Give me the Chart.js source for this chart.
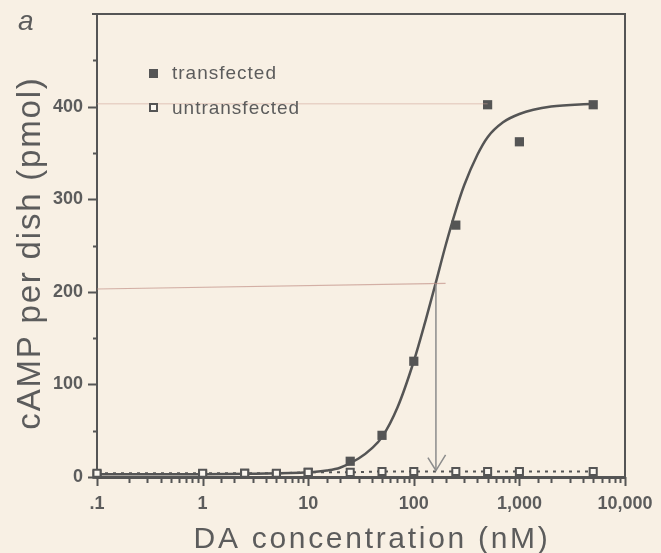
<!DOCTYPE html>
<html lang="en">
<head>
  <meta charset="UTF-8">
  <title>cAMP per dish vs DA concentration</title>
  <script src="https://cdn.jsdelivr.net/npm/chart.js"></script>
  <style>
    html, body { margin: 0; padding: 0; background: #f8f0e4; }
    #wrap { position: relative; width: 661px; height: 553px; }
  </style>
</head>
<body>
  <div id="wrap"><canvas id="chart" width="661" height="553"></canvas></div>
  <script>
    // DA concentration (nM) and measured cAMP (pmol per dish)
    const concentrations = [0.1, 1, 2.5, 5, 10, 25, 50, 100, 250, 500, 1000, 5000];
    const transfected    = [3, 3, 4, 3, 5, 17, 45, 125, 272, 402, 362, 402];
    const untransfected  = [4, 4, 4, 4, 5, 5, 6, 6, 6, 6, 6, 6];

    // fitted curve
    const fitX = [0.1, 1, 3, 10, 15, 20, 30, 40, 50, 70, 100, 130, 160, 200, 250, 300, 400, 500, 700, 1000, 2000, 5000];
    const fitY = [3, 3, 3.5, 5, 7, 10, 20, 31, 43, 75, 125, 170, 208, 250, 288, 315, 348, 367, 383, 392, 400, 403];

    // pencil marks on the scan (max line, half-max line and EC50 arrow)
    const maxLineX = [0.1, 500];
    const maxLineY = [403, 403];
    const halfLineX = [0.1, 200];
    const halfLineY = [203, 209];
    const arrowX = [162, 162];
    const arrowY = [209, 7];
    const arrowHeadX = [136, 162, 200];
    const arrowHeadY = [21, 7, 24];

    const xTickLabels = { 0.1: '.1', 1: '1', 10: '10', 100: '100', 1000: '1,000', 10000: '10,000' };
    const yTickLabels = [0, 100, 200, 300, 400];

    const ink = '#555555';
    const textInk = '#5c5c5c';
    const paper = '#f8f0e4';

    const pts = (xs, ys) => xs.map((x, i) => ({ x: x, y: ys[i] }));

    const decor = {
      id: 'decor',
      beforeDraw(chart) {
        const ctx = chart.ctx;
        ctx.save();
        ctx.fillStyle = paper;
        ctx.fillRect(0, 0, chart.width, chart.height);
        ctx.restore();
      },
      afterDraw(chart) {
        const { ctx, chartArea: a, scales: { x, y } } = chart;
        ctx.save();
        ctx.strokeStyle = ink;
        ctx.lineWidth = 2;
        // top and right frame
        ctx.beginPath();
        ctx.moveTo(a.left - 5, a.top);
        ctx.lineTo(a.right, a.top);
        ctx.lineTo(a.right, a.bottom + 1);
        ctx.stroke();

        // x tick marks (pointing down)
        x.ticks.forEach(t => {
          const lg = Math.log10(t.value);
          const major = Math.abs(lg - Math.round(lg)) < 1e-6;
          const px = Math.round(x.getPixelForValue(t.value)) + 0.5;
          ctx.lineWidth = 2;
          ctx.beginPath();
          ctx.moveTo(px, a.bottom);
          ctx.lineTo(px, a.bottom + (major ? 9 : 6));
          ctx.stroke();
        });
        // y tick marks (pointing left)
        y.ticks.forEach(t => {
          if (t.value >= 500) return;
          const major = t.value % 100 === 0;
          const py = Math.round(y.getPixelForValue(t.value)) + 0.5;
          ctx.beginPath();
          ctx.moveTo(a.left, py);
          ctx.lineTo(a.left - (major ? 9 : 4), py);
          ctx.stroke();
        });

        // legend
        ctx.fillStyle = ink;
        ctx.fillRect(149, 69, 9, 9);
        ctx.fillStyle = '#fbf7f0';
        ctx.fillRect(150, 104, 7, 7);
        ctx.strokeStyle = ink;
        ctx.lineWidth = 2;
        ctx.strokeRect(150, 104, 7, 7);
        ctx.fillStyle = textInk;
        ctx.font = '19px "Liberation Sans", Arial, sans-serif';
        ctx.letterSpacing = '1px';
        ctx.textBaseline = 'middle';
        ctx.textAlign = 'left';
        ctx.fillText('transfected', 172, 74);
        ctx.fillText('untransfected', 172, 109);

        // panel letter
        ctx.letterSpacing = '0px';
        ctx.font = 'italic 28px "Liberation Sans", Arial, sans-serif';
        ctx.textBaseline = 'alphabetic';
        ctx.fillText('a', 18, 30);

        // axis titles
        ctx.font = '30px "Liberation Sans", Arial, sans-serif';
        ctx.letterSpacing = '2.7px';
        ctx.textAlign = 'center';
        ctx.fillText('DA concentration (nM)', 372, 548);

        ctx.save();
        ctx.translate(40, 253);
        ctx.rotate(-Math.PI / 2);
        ctx.font = '33px "Liberation Sans", Arial, sans-serif';
        ctx.letterSpacing = '1.8px';
        ctx.fillText('cAMP per dish (pmol)', 0, 0);
        ctx.restore();

        ctx.restore();
      }
    };

    new Chart(document.getElementById('chart').getContext('2d'), {
      type: 'scatter',
      data: {
        datasets: [
          {
            label: 'max',
            data: pts(maxLineX, maxLineY),
            showLine: true, pointRadius: 0,
            borderColor: 'rgba(205,160,150,0.55)', borderWidth: 1
          },
          {
            label: 'half max',
            data: pts(halfLineX, halfLineY),
            showLine: true, pointRadius: 0,
            borderColor: 'rgba(190,140,130,0.65)', borderWidth: 1.2
          },
          {
            label: 'EC50',
            data: pts(arrowX, arrowY),
            showLine: true, pointRadius: 0,
            borderColor: '#8c8c8c', borderWidth: 1.5
          },
          {
            label: 'arrow head',
            data: pts(arrowHeadX, arrowHeadY),
            showLine: true, pointRadius: 0,
            borderColor: '#8c8c8c', borderWidth: 1.5
          },
          {
            label: 'untransfected',
            data: pts(concentrations, untransfected),
            showLine: true,
            borderColor: ink, borderWidth: 2, borderDash: [3, 5],
            pointStyle: 'rect', pointRadius: 5, pointBorderWidth: 2,
            pointBackgroundColor: '#fbf7f0', pointBorderColor: ink,
            clip: false
          },
          {
            label: 'fit',
            data: pts(fitX, fitY),
            showLine: true, pointRadius: 0,
            borderColor: ink, borderWidth: 2.5,
            cubicInterpolationMode: 'monotone'
          },
          {
            label: 'transfected',
            data: pts(concentrations, transfected),
            showLine: false,
            pointStyle: 'rect', pointRadius: 6.5, pointBorderWidth: 0,
            pointBackgroundColor: ink,
            clip: false
          }
        ]
      },
      options: {
        responsive: false,
        animation: false,
        layout: { padding: { left: 0, right: 36, top: 14, bottom: 0 } },
        plugins: { legend: { display: false }, tooltip: { enabled: false } },
        scales: {
          x: {
            type: 'logarithmic',
            min: 0.1, max: 10000,
            afterFit: s => { s.height = 76; s.paddingLeft = 0; s.paddingRight = 0; },
            grid: { display: false, drawTicks: false },
            border: { display: true, color: ink, width: 3 },
            ticks: {
              autoSkip: false, maxRotation: 0, padding: 16,
              color: textInk,
              font: { family: '"Liberation Sans", Arial, sans-serif', size: 18, weight: 'bold' },
              callback: v => xTickLabels[v] !== undefined ? xTickLabels[v] : ''
            }
          },
          y: {
            min: 0, max: 500,
            afterFit: s => { s.width = 97; s.paddingTop = 0; s.paddingBottom = 0; },
            grid: { display: false, drawTicks: false },
            border: { display: true, color: ink, width: 2 },
            ticks: {
              stepSize: 50, autoSkip: false, padding: 14,
              color: textInk,
              font: { family: '"Liberation Sans", Arial, sans-serif', size: 18, weight: 'bold' },
              callback: v => yTickLabels.includes(v) ? String(v) : ''
            }
          }
        }
      },
      plugins: [decor]
    });
  </script>
</body>
</html>
